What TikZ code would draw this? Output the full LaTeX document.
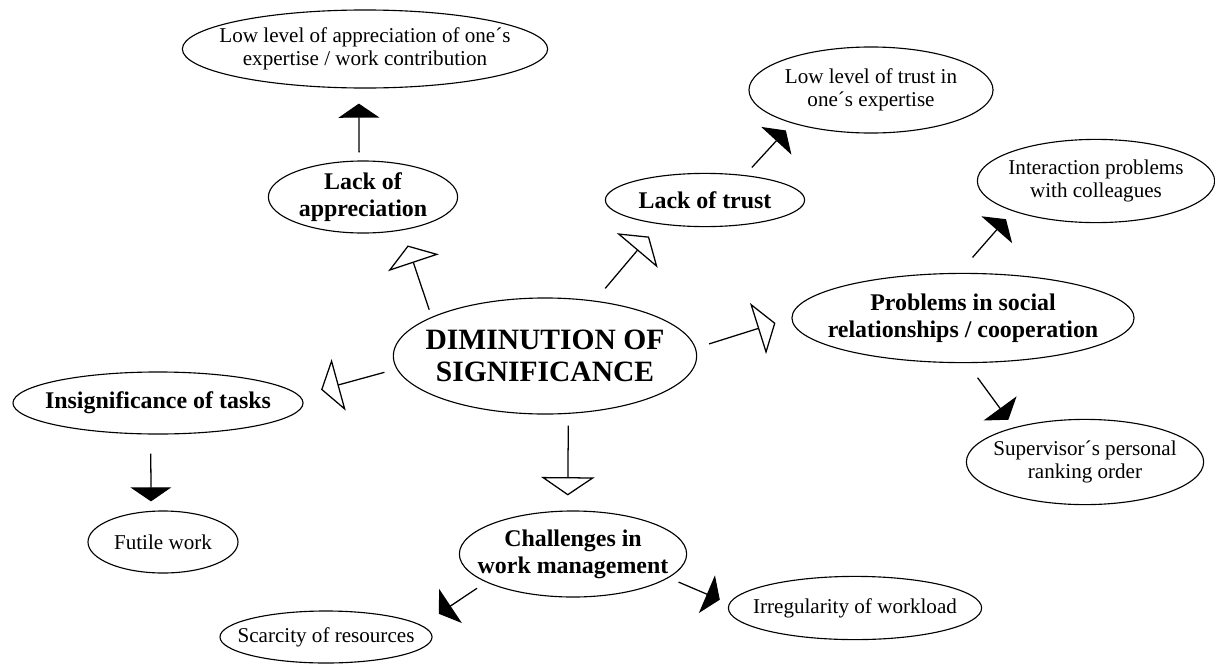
\documentclass[tikz,border=0pt]{standalone}
\usepackage{fontspec}
\setmainfont{Liberation Serif}
\usetikzlibrary{shapes.geometric, arrows.meta}

\begin{document}
\begin{tikzpicture}[
    x=0.025cm, y=-0.025cm,
    bubble/.style={ellipse, draw, line width=0.8pt, inner xsep=-3cm, inner ysep=-2cm, align=center, font=\fontsize{15}{16.5}\selectfont},
    topic/.style={bubble, font=\bfseries\fontsize{17}{19}\selectfont},
    core/.style={bubble, font=\bfseries\fontsize{21}{23}\selectfont},
    main/.style={line width=0.9pt, -{Triangle[open, length=13pt, width=38pt]}},
    sub/.style={line width=0.9pt, -{Triangle[length=10pt, width=29pt]}}
  ]
    \useasboundingbox (0,0) rectangle (1215,664);

    % Core
    \node[core, minimum width=7.58cm, minimum height=2.9cm] (dim) at (545,356) {DIMINUTION OF\\SIGNIFICANCE};

    % Topics
    \node[topic, minimum width=4.73cm, minimum height=1.8cm] (app) at (363,197) {Lack of\\appreciation};
    \node[topic, minimum width=4.98cm, minimum height=1.33cm] (trust) at (705,200) {Lack of trust};
    \node[topic, minimum width=8.55cm, minimum height=2.23cm] (soc) at (963,318) {Problems in social\\relationships / cooperation};
    \node[topic, minimum width=7.25cm, minimum height=1.55cm] (ins) at (158,403) {Insignificance of tasks};
    \node[topic, minimum width=5.68cm, minimum height=2.15cm] (chal) at (573,554) {Challenges in\\work management};

    % Details
    \node[bubble, minimum width=9.13cm, minimum height=1.95cm] (applow) at (365,49) {Low level of appreciation of one´s\\expertise / work contribution};
    \node[bubble, minimum width=6.1cm, minimum height=2.15cm] (trustlow) at (871,90) {Low level of trust in\\one´s expertise};
    \node[bubble, minimum width=5.93cm, minimum height=2.08cm] (inter) at (1096,181) {Interaction problems\\with colleagues};
    \node[bubble, minimum width=5.93cm, minimum height=2.13cm] (sup) at (1085,462) {Supervisor´s personal\\ranking order};
    \node[bubble, minimum width=3.75cm, minimum height=1.55cm] (futile) at (163,542) {Futile work};
    \node[bubble, minimum width=5.3cm, minimum height=1.3cm] (scar) at (326,637) {Scarcity of resources};
    \node[bubble, minimum width=6.33cm, minimum height=1.58cm] (irr) at (855,608) {Irregularity of workload};

    % Main branches
    \draw[main, shorten <=5.4pt, shorten >=11.4pt] (dim.161) -- (app.-40);
    \draw[main, shorten <=11.4pt, shorten >=11.5pt] (dim.48) -- (trust.-152);
    \draw[main, shorten <=9.9pt, shorten >=11.9pt] (dim.3) -- (soc.180);
    \draw[main, shorten <=9pt, shorten >=15.9pt] (dim.185) -- (ins.3);
    \draw[main, shorten <=8.3pt, shorten >=10.7pt] (dim.-68) -- (chal.97);

    % Sub branches
    \draw[sub, shorten <=5.7pt, shorten >=10.7pt] (app.96) -- (applow.-99);
    \draw[sub, shorten <=7.3pt, shorten >=6.8pt] (trust.32) -- (trustlow.-157);
    \draw[sub, shorten <=14.6pt, shorten >=7.5pt] (soc.95) -- (inter.-160);
    \draw[sub, shorten <=12.8pt, shorten >=6.7pt] (soc.-85) -- (sup.154);
    \draw[sub, shorten <=13.5pt, shorten >=6.7pt] (ins.-103) -- (futile.111);
    \draw[sub, shorten <=7.7pt, shorten >=14.7pt] (chal.198) -- (scar.7);
    \draw[sub, shorten <=7.7pt, shorten >=7.1pt] (chal.-14) -- (irr.178);
  \end{tikzpicture}
\end{document}
